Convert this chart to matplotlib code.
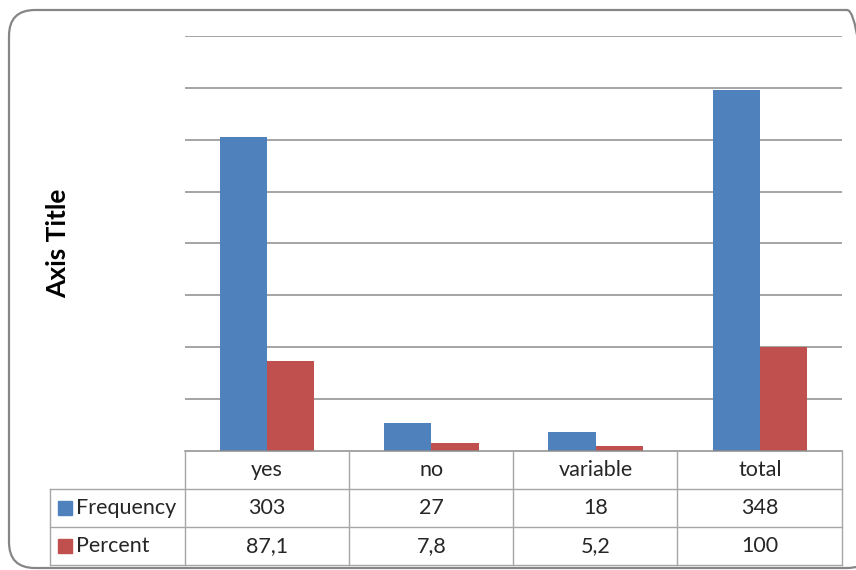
import matplotlib
matplotlib.use('Agg')
import matplotlib.pyplot as plt
from matplotlib.patches import FancyBboxPatch, Rectangle
from matplotlib.transforms import blended_transform_factory, IdentityTransform

categories = ['yes', 'no', 'variable', 'total']
frequency = [303, 27, 18, 348]
percent = [87.1, 7.8, 5.2, 100]
freq_labels = ['303', '27', '18', '348']
pct_labels = ['87,1', '7,8', '5,2', '100']
series_names = ['Frequency', 'Percent']

blue = '#4F81BD'
red = '#C0504D'
grid_c = '#8C8C8C'
table_c = '#A6A6A6'
text_c = '#262626'

plt.rcParams['font.family'] = ['Lato', 'DejaVu Sans']

W, H = 856, 570
fig = plt.figure(figsize=(W / 100, H / 100), dpi=100)

# plot area in pixels (top-left origin)
px_l, px_r, px_t, px_b = 185, 842, 36, 451
ax = fig.add_axes([px_l / W, 1 - px_b / H, (px_r - px_l) / W, (px_b - px_t) / H])

x = list(range(len(categories)))
bw = 0.287
ax.bar([i - bw / 2 for i in x], frequency, width=bw, color=blue, zorder=3)
ax.bar([i + bw / 2 for i in x], percent, width=bw, color=red, zorder=3)

ax.set_xlim(-0.5, len(categories) - 0.5)
ax.set_ylim(0, 400)
ax.set_yticks(range(50, 401, 50))
ax.yaxis.grid(True, color=grid_c, linewidth=1.1, zorder=0)
ax.tick_params(left=False, bottom=False, labelleft=False, labelbottom=False)
for s in ax.spines.values():
    s.set_visible(False)


def fy(py):
    # pixel row (from top) -> figure fraction
    return 1 - py / H


def fx(px):
    return px / W


# table lines
row_y = [451, 489, 527, 565]
col_x = [185, 349, 513, 677, 842]
lw = 1.0
fig.add_artist(plt.Line2D([fx(185), fx(842)], [fy(451), fy(451)], color=grid_c, lw=1.1))
for yy in row_y[1:]:
    fig.add_artist(plt.Line2D([fx(50), fx(842)], [fy(yy), fy(yy)], color=table_c, lw=lw))
for xx in col_x:
    fig.add_artist(plt.Line2D([fx(xx), fx(xx)], [fy(451), fy(565)], color=table_c, lw=lw))
fig.add_artist(plt.Line2D([fx(50), fx(50)], [fy(489), fy(565)], color=table_c, lw=lw))

# table text, x from data, y from pixel rows
tr = blended_transform_factory(ax.transData, fig.transFigure)
fs = 15.5
for i, c in enumerate(categories):
    fig.text(i, fy(470), c, transform=tr, ha='center', va='center', fontsize=fs, color=text_c)
    fig.text(i, fy(508), freq_labels[i], transform=tr, ha='center', va='center', fontsize=fs, color=text_c)
    fig.text(i, fy(546), pct_labels[i], transform=tr, ha='center', va='center', fontsize=fs, color=text_c)

# legend keys inside table
for name, col, yc in zip(series_names, [blue, red], [508, 546]):
    fig.add_artist(Rectangle((fx(58), fy(yc + 7)), 14 / W, 14 / H, color=col))
    fig.text(fx(76), fy(yc), name, ha='left', va='center', fontsize=fs, color=text_c)

fig.text(fx(58), fy(243), 'Axis Title', rotation=90, ha='center', va='center',
         fontsize=19, fontweight='bold', color='black')

# outer rounded frame (display pixel coords)
frame = FancyBboxPatch((9, H - 568), 864, 558, boxstyle='round,pad=0,rounding_size=26',
                       transform=IdentityTransform(), fill=False, edgecolor='#868686', lw=1.6)
fig.add_artist(frame)

fig.savefig('out.png', dpi=100)
